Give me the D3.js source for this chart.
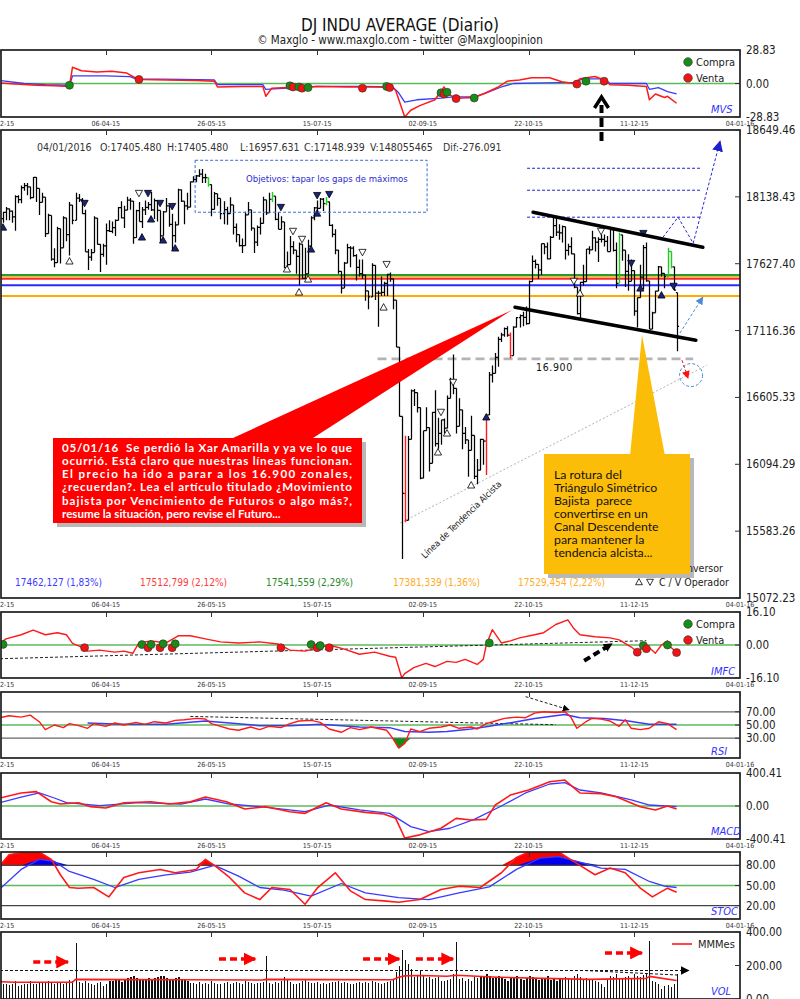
<!DOCTYPE html>
<html lang="es">
<head>
<meta charset="utf-8">
<title>DJ INDU AVERAGE (Diario)</title>
<script src="https://cdn.jsdelivr.net/npm/d3@7/dist/d3.min.js"></script>
<style>
  html, body { margin: 0; padding: 0; background: #fff; }
  svg { display: block; }
</style>
</head>
<body>
<svg id="chart" width="800" height="999"></svg>
<script>
// ---------------- Date axis ----------------
const dateTickIdx = [0, 35, 70, 105, 140, 175, 210, 245];
const dateTickLabels = ["12-02-15", "06-04-15", "26-05-15", "15-07-15", "02-09-15", "22-10-15", "11-12-15", "04-01-16"];
const lastDate = "04/01/2016";

// ---------------- Daily bars, 12-02-2015 .. 04-01-2016 ----------------
const opens = [17868,17972,18019,18047,18029,17986,18140,18117,18209,18224,
18214,18133,18288,18203,18097,18136,17857,17996,17662,17635,
17895,17749,17977,17849,18076,17959,18128,18116,18011,17718,
17678,17713,17976,17776,17698,17763,17881,17875,17903,17958,
18057,17977,18037,18113,18106,17826,18034,17950,18038,18058,
18080,18038,18110,18035,17841,18024,18070,17928,17842,17925,
18191,18105,18069,18060,18252,18272,18299,18312,18285,18285,
18232,18042,18163,18126,18011,18041,18011,18077,17906,17849,
17766,17765,18001,18039,17899,17792,17905,17935,18116,18016,
18120,18144,17966,17890,17947,17597,17620,17758,17731,17684,
17777,17516,17549,17761,17978,18054,18051,18121,18087,18101,
17920,17851,17732,17569,17441,17631,17751,17746,17690,17599,
17551,17540,17419,17373,17615,17403,17402,17409,17477,17546,
17512,17349,16990,16460,15871,15666,16285,16655,16643,16528,
15988,16351,16375,16102,16492,16253,16330,16433,16370,16599,
16740,16675,16385,16511,16331,16280,16201,16315,16001,16049,
16285,16272,16472,16777,16790,16912,17050,17084,17131,17081,
16925,17142,17216,17230,17218,17169,17490,17646,17623,17581,
17780,17756,17664,17828,17918,17868,17863,17910,17730,17758,
17703,17448,17245,17484,17490,17738,17733,17824,17792,17813,
17813,17798,17720,17888,17730,17478,17848,17731,17568,17493,
17575,17265,17368,17525,17750,17496,17128,17252,17418,17603,
17553,17528,17721,17604,17405.48];

const highs = [17980,18025,18060,18050,18035,18150,18150,18225,18245,18245,
18215,18290,18288,18203,18170,18136,18010,17996,17745,17910,
17895,17990,17977,18100,18076,18170,18160,18130,18040,17740,
17740,17990,17976,17776,17780,17935,17960,17950,17965,18060,
18105,18070,18140,18130,18106,18040,18100,18060,18110,18100,
18175,18125,18110,18035,18030,18130,18070,18010,17950,18200,
18195,18105,18170,18255,18295,18305,18350,18351,18315,18286,
18232,18175,18163,18126,18105,18062,18135,18077,17935,17850,
17820,18025,18100,18039,17899,17920,17980,18140,18116,18170,
18175,18144,18020,17990,17947,17720,17840,17800,17731,17790,
17777,17750,17810,17990,18060,18110,18130,18130,18137,18101,
17930,17890,17732,17569,17640,17780,17760,17760,17700,17660,
17660,17545,17419,17630,17615,17420,17530,17490,17550,17560,
17512,17349,16990,16460,16312,16310,16666,16670,16643,16528,
16351,16530,16375,16493,16660,16450,16434,16445,16620,16755,
16933,16675,16600,16511,16380,16280,16465,16315,16134,16290,
16285,16472,16800,16850,16945,17070,17100,17140,17150,17102,
17150,17220,17240,17260,17300,17500,17690,17660,17623,17780,
17780,17790,17840,17978,17978,17930,17920,17910,17780,17830,
17703,17448,17490,17620,17740,17760,17880,17830,17830,17850,
17850,17840,17900,17900,17790,17866,17848,17731,17700,17660,
17575,17370,17620,17770,17790,17496,17260,17420,17610,17605,
17553,17750,17721,17604,17405.48];

const lows = [17868,17940,17960,17960,17940,17880,18090,18090,18185,18150,
18120,18130,18100,18000,18097,17832,17857,17650,17600,17635,
17630,17749,17800,17690,17930,17959,18100,18010,17718,17580,
17650,17713,17775,17565,17680,17620,17870,17860,17840,17958,
17975,17900,18037,18040,17780,17826,17950,17900,18000,18040,
18030,17970,17950,17800,17841,18024,17910,17730,17790,17925,
18100,17930,18040,18060,18250,18250,18290,18245,18245,18216,
17990,18042,18070,17967,17930,17925,18011,17850,17791,17760,
17710,17765,18001,17880,17710,17762,17850,17935,18000,18016,
18100,17960,17890,17890,17592,17575,17620,17700,17550,17465,
17510,17516,17549,17761,17960,18020,18051,18030,18074,17915,
17830,17700,17550,17400,17441,17631,17600,17680,17500,17530,
17510,17345,17280,17373,17350,17145,17380,17380,17380,17490,
17280,16990,16459,15370,15651,15666,16285,16540,16490,15980,
15988,16350,16040,16102,16230,16213,16244,16330,16370,16599,
16630,16330,16385,16210,16250,16000,16201,15981,15942,16049,
16090,16013,16472,16720,16790,16840,17030,17070,17070,16904,
16925,17140,17140,17150,17160,17169,17490,17590,17510,17540,
17700,17660,17664,17828,17840,17810,17790,17660,17690,17700,
17440,17240,17210,17460,17490,17700,17733,17720,17640,17790,
17760,17720,17720,17720,17440,17478,17650,17450,17420,17493,
17230,17140,17368,17430,17490,17128,17128,17252,17418,17530,
17440,17528,17590,17421,16957.631];

const closes = [17972,18019,18047,18029,17986,18140,18117,18209,18224,18214,
18133,18288,18203,18097,18136,17857,17996,17662,17635,17895,
17749,17977,17849,18076,17959,18128,18116,18011,17718,17678,
17713,17976,17776,17698,17763,17881,17875,17903,17958,18057,
17977,18037,18113,18106,17826,18034,17950,18038,18058,18080,
18038,18110,18035,17841,18024,18070,17928,17842,17925,18191,
18105,18069,18060,18252,18272,18299,18312,18285,18285,18232,
18042,18163,18126,18011,18041,18011,18077,17906,17849,17766,
17765,18001,18039,17899,17792,17905,17935,18116,18016,18120,
18144,17966,17890,17947,17597,17620,17758,17731,17684,17777,
17516,17549,17761,17978,18054,18051,18121,18087,18101,17920,
17851,17732,17569,17441,17631,17751,17746,17690,17599,17551,
17540,17419,17373,17615,17403,17402,17409,17477,17546,17512,
17349,16990,16460,15871,15666,16285,16655,16643,16528,15988,
16351,16375,16102,16492,16253,16330,16433,16370,16599,16740,
16675,16385,16511,16331,16280,16201,16315,16001,16049,16285,
16272,16472,16777,16790,16912,17050,17084,17131,17081,16925,
17142,17216,17230,17218,17169,17490,17646,17623,17581,17780,
17756,17664,17828,17918,17868,17863,17910,17730,17758,17703,
17448,17245,17484,17490,17738,17733,17824,17792,17813,17813,
17798,17720,17888,17730,17478,17848,17731,17568,17493,17575,
17265,17368,17525,17750,17496,17128,17252,17418,17603,17553,
17528,17721,17604,17425.03,17148.939];

// volume, millions of shares
const volumes = [95,88,92,85,90,110,80,85,90,92,105,90,88,95,100,96,110,98,92,100,95,90,102,112,108,
334,
100,95,110,98,90,85,95,100,80,88,
105,110,112,120,100,118,125,130,140,125,115,120,118,128,122,125,130,135,140,128,120,115,125,130,118,112,108,
95,98,90,100,92,95,88,105,98,92,90,95,100,92,98,102,95,90,105,100,96,92,98,95,100,
257,
95,90,100,98,105,130,115,100,92,88,95,110,120,100,98,95,100,
92,95,90,98,100,102,105,98,100,95,90,92,98,100,95,102,98,110,100,95,92,98,100,
105,115,160,200,
293,230,210,180,130,140,170,145,125,130,120,125,130,110,105,115,120,150,340,120,125,110,120,110,130,125,140,
130,150,135,125,130,140,125,120,110,125,130,140,120,115,125,
140,130,120,115,125,120,140,115,120,110,118,120,130,125,120,140,150,130,120,125,115,120,110,100,90,70,120,140,130,150,125,120,130,140,120,
150,140,130,145,155,345,110,100,90,60,80,85,70,90,148.055465];
const volHeavyRanges = [[36, 62], [159, 185]];

// highlighted bars
const greenBars = [69, 90, 108, 205, 221, 222];
const redBars = [134, 161, 169];

// signal triangles: [bar index, price]
const invBuy = [[1,17906],[47,17830],[50,17968],[54,17807],[58,17746],[103,17738],[105,18013],[161,16455],[212,17440],[219,17387]];
const invSell = [[28,18090],[49,18166],[53,18090],[57,18066],[93,18059],[105,18150],[109,18158],[209,17631],[213,17860],[223,17456]];
const opBuy = [[23,17647],[95,17586],[99,17410],[102,17509],[127,17295],[145,16187],[148,16332],[156,15935],[192,17402]];
const opSell = [[46,18166],[97,17876],[100,17815],[120,17715],[128,17623],[146,16493],[150,16722],[190,17494],[199,17876]];

// support / resistance levels (label order)
const levelValues = [17462.127, 17512.799, 17541.559, 17381.339, 17529.454];
const levelColors = ["#2a2aff", "#ff2a2a", "#2a9a2a", "#ffaa00", "#f7b733"];
const levelTextColors = ["#3b3bff", "#ff3b3b", "#2a8a2a", "#ffaa22", "#ffae2a"];
const keyLevel = 16900;

// price axis ticks
const mainTicks = [18649.46, 18138.43, 17627.40, 17116.36, 16605.33, 16094.29, 15583.26, 15072.23];

// drawn annotations in [bar index, price]
const targetLevels = [18357, 18189, 17983];
const channelUpper = [[176.5, 18021], [232.7, 17753]];
const channelLower = [[170.5, 17295], [230.4, 17043]];
const projection = [[219.5, 17830], [224.5, 17983], [229.5, 17784], [238.4, 18563]];
const bounceArrow = [[225.1, 17097], [232.7, 17372]];
const dropArrow = [[225.8, 16890], [227.8, 16752]];
const targetCircle = [228.8, 16776];
const trendLine = [[132.5, 15645], [234, 16852]];
const objectiveBox = [[64.6, 18418], [141.4, 18021]];

// ---------------- MVS ----------------
const mvsTicks = [28.83, 0, -28.83];
const mvsRed = [[0,0.5],[5,-0.5],[12,-1.5],[18,-2],[23,-2.5],[24,14],[27,11],[32,10],[37,10.5],[42,9],[45,4.5],[47,3.5],[55,3],[65,2.5],[71,2],[72,-3],[80,-2.5],[87,-2.5],[88,-11],[90,-4],[95,-3.5],[105,-2.5],[115,-3],[125,-3],[130,-3.5],[131,-6],[134,-28.8],[136,-23],[139,-19],[144,-14],[147,-3],[149,-10],[151,-12.6],[157,-12],[160,-9],[165,-3],[168,2],[172,3],[176,5],[182,5],[186,1.5],[190,0],[192,4],[197,6],[200,3],[202,-1],[208,-1.5],[214,-2.5],[215,-14],[217,-9],[220,-12],[221,-11],[224,-17]];
const mvsBlue = [[0,2.5],[8,0],[15,-1],[23,-1.5],[24,6.5],[35,6.5],[43,6],[45,4],[60,3.5],[71,3],[72,-1],[87,-1],[88,-5],[95,-4],[105,-2.5],[120,-2.5],[130,-3],[132,-8],[134,-16],[138,-14],[146,-12.5],[150,-11.5],[157,-11.5],[161,-8],[166,-3],[170,0],[180,0.5],[190,1],[193,4],[200,4],[202,0],[214,0],[215,-5],[218,-3.5],[221,-7],[224,-9]];
const mvsSignals = [[23,-1.5,"c"],[46,3.5,"v"],[96,-2,"c"],[97,-3,"v"],[99,-3,"c"],[100,-4,"v"],[102,-3.5,"c"],[120,-4,"v"],[128,-2.5,"c"],[129,-3.5,"v"],[146,-8,"c"],[147,-9,"v"],[148,-7.5,"c"],[151,-13,"v"],[157,-12.5,"c"],[191,-0.5,"v"],[194,2,"c"],[200,2,"v"]];

// ---------------- IMFC ----------------
const imfcTicks = [16.10, 0, -16.10];
const imfc = [[0,0.8],[2,3],[7,5],[11,7.3],[15,5],[19,6],[22,5],[24,0.8],[27,-1],[29,-3],[33,-2.5],[38,-3.5],[41,-3],[44,-4],[46,1],[50,2],[55,1],[59,4.5],[63,4.5],[68,3],[73,1.5],[79,1],[86,1.5],[92,0.5],[96,-2.5],[101,-3],[105,-1.5],[109,0],[114,-2],[119,-4.5],[124,-3.5],[129,-5.5],[131,-6],[133,-16],[134,-14],[137,-11],[141,-9],[144,-10.5],[148,-8],[151,-8.5],[154,-7],[158,-9.5],[160,-7],[161,0],[163,7.5],[166,1],[169,2],[172,3.5],[177,5],[180,6],[184,10],[188,12.3],[190,8],[192,5],[197,4],[202,3.5],[205,2.5],[209,-1],[211,-3.3],[214,0],[217,-4],[219,0],[221,2],[222,-1],[224,-3.5]];
const imfcSignals = [[1,0.3,"c"],[28,-1.3,"v"],[47,0.2,"c"],[49,-1.3,"v"],[50,0.2,"c"],[53,-1.3,"v"],[54,0.6,"c"],[57,-1.3,"v"],[58,0.6,"c"],[93,-1.3,"v"],[103,0.2,"c"],[105,-1.3,"v"],[106,-0.3,"c"],[109,-1.3,"v"],[162,1,"c"],[211,-3.5,"v"],[213,-0.3,"c"],[214,-1.8,"v"],[221,0,"c"],[224,-3.7,"v"]];
const imfcTrend = [[0,-6.7],[214,2.1]];
const imfcArrow = [[193.4,-7.7],[202.6,0.6]];

// ---------------- RSI ----------------
const rsiTicks = [70, 50, 30];
const rsiRed = [[0,61],[3,64],[7,62],[10,65],[13,55],[15,43],[18,50],[21,46],[23,52],[26,49],[29,45],[31,52],[35,48],[38,53],[41,50],[45,54],[48,51],[51,55],[55,53],[58,57],[61,58],[65,60],[68,59],[70,52],[73,48],[76,44],[79,42],[83,47],[86,43],[89,48],[93,46],[96,52],[99,56],[103,57],[106,54],[109,44],[113,39],[116,46],[119,43],[123,47],[126,44],[128,42],[130,30],[132,15],[134,22],[136,44],[139,40],[142,45],[146,47],[149,50],[152,45],[156,47],[158,44],[161,52],[164,56],[167,60],[171,62],[174,61],[177,68],[180,70],[184,69],[187,70],[189,62],[191,45],[194,55],[196,60],[199,59],[202,56],[205,48],[207,58],[209,45],[212,43],[215,45],[218,55],[221,52],[224,43]];
const rsiBlue = [[29,53],[40,51],[55,51],[68,56],[76,53],[86,49],[96,49],[106,51],[119,47],[129,46],[134,40],[142,39],[148,40],[156,44],[162,48],[171,55],[177,60],[187,66],[192,61],[200,60],[208,56],[215,51],[224,51]];
const rsiTrend = [[63,63],[184,50.4]];
const rsiArrow = [[174,93],[188.4,73]];

// ---------------- MACD ----------------
const macdTicks = [400.41, 0, -400.41];
const macdRed = [[0,97],[7,158],[12,174],[17,52],[20,24],[26,40],[30,-8],[35,-24],[41,40],[50,52],[56,24],[63,50],[68,109],[75,52],[81,-36],[88,-8],[96,-69],[101,-89],[108,40],[113,-36],[121,-77],[127,-97],[131,-150],[134,-388],[139,-350],[146,-270],[151,-150],[156,-170],[161,-162],[164,12],[169,133],[175,194],[182,295],[187,315],[192,158],[199,150],[204,113],[212,-8],[217,-48],[221,0],[224,-36]];
const macdBlue = [[0,40],[7,109],[13,158],[18,97],[22,40],[33,4],[46,40],[60,24],[68,85],[76,24],[86,-8],[101,-69],[109,12],[119,-48],[129,-89],[136,-250],[142,-312],[149,-270],[157,-162],[166,0],[174,158],[182,267],[187,283],[192,194],[199,158],[209,73],[215,12],[224,-8]];

// ---------------- STOC ----------------
const stocTicks = [80, 50, 20];
const stocRed = [[0,80],[3,96],[8,100],[13,100],[17,89],[20,66],[23,47],[26,46],[31,47],[36,33],[41,62],[46,69],[53,74],[58,69],[65,74],[68,89],[71,80],[76,62],[81,39],[86,29],[90,47],[96,44],[101,22],[105,46],[111,69],[116,42],[121,29],[127,27],[132,25],[139,29],[146,44],[152,49],[159,47],[166,69],[171,92],[175,100],[185,100],[192,80],[197,66],[202,76],[207,69],[212,46],[216,33],[221,46],[224,40]];
const stocBlue = [[0,45],[7,74],[13,89],[18,86],[23,71],[31,59],[38,47],[46,59],[55,66],[63,70],[71,80],[79,64],[86,47],[94,43],[103,34],[113,53],[121,39],[132,32],[142,29],[152,39],[162,48],[171,74],[179,91],[185,93],[192,85],[199,76],[207,74],[215,56],[220,49],[224,47]];

// ---------------- VOL ----------------
const volTicks = [400, 200, 0];
const mmMes = [[0,103],[5,100],[24,100],[25,117],[60,115],[87,113],[88,117],[130,115],[132,130],[134,138],[139,140],[148,136],[151,142],[165,130],[180,123],[195,117],[214,123],[215,135],[224,110]];
const volTrend = [[0,170],[228,170]];
const volTrend2 = [[193.7,170],[224.5,143]];
const volArrows = [[11,22.5,221],[72.5,84.5,239],[120.2,132.2,239],[137.7,150,239],[200.3,212.5,275]];

// ---------------- Notes ----------------
const redNote = [
  "05/01/16  Se perdió la Xar Amarilla y ya ve lo que",
  "ocurrió. Está claro que nuestras líneas funcionan.",
  "El precio ha ido a parar a los 16.900 zonales,",
  "¿recuerdan?. Lea el artículo titulado ¿Movimiento",
  "bajista por Vencimiento de Futuros o algo más?,",
  "resume la situación, pero revise el Futuro..."
];
const yellowNote = ["La rotura del", "Triángulo Simétrico", "Bajista  parece", "convertirse en un", "Canal Descendente", "para mantener la", "tendencia alcista..."];

// =====================================================================
const FONT = "'DejaVu Sans Condensed','DejaVu Sans',sans-serif";
const svg = d3.select("#chart");
const defs = svg.append("defs");
const contentLayer = svg.append("g");
const frameLayer = svg.append("g");
const overlayLayer = svg.append("g");

const PL = 1, PR = 740;
const x = d3.scaleLinear().domain([0, 245]).range([0, 740]);
const px = i => Math.round(x(i)) + 0.5;

const layout = {
  mvs: [50, 117], main: [130, 598], imfc: [612, 678], rsi: [692, 758],
  macd: [773, 839], stoc: [852, 919], vol: [932, 999]
};

function arrowMarker(id, color, size) {
  defs.append("marker").attr("id", id).attr("viewBox", "0 0 10 10")
    .attr("refX", 9).attr("refY", 5).attr("markerWidth", size).attr("markerHeight", size)
    .attr("markerUnits", "userSpaceOnUse").attr("orient", "auto")
    .append("path").attr("d", "M0,0L10,5L0,10Z").attr("fill", color);
}
arrowMarker("ah-blue", "#2020cc", 11);
arrowMarker("ah-lblue", "#4a8ad8", 8);
arrowMarker("ah-red", "#ff1010", 8);
arrowMarker("ah-black", "#000", 9);
arrowMarker("ah-black-s", "#000", 7);
arrowMarker("ah-redbig", "#ff0000", 13);

function makePanel(name, domain, ticks, fmt) {
  const [top, bottom] = layout[name];
  const y = d3.scaleLinear().domain(domain).range([bottom, top]);
  defs.append("clipPath").attr("id", "c-" + name).append("rect")
    .attr("x", PL).attr("y", top).attr("width", PR - PL).attr("height", bottom - top);
  const body = contentLayer.append("g").attr("clip-path", `url(#c-${name})`);
  frameLayer.append("rect").attr("x", PL).attr("y", top).attr("width", PR - PL).attr("height", bottom - top)
    .attr("fill", "none").attr("stroke", "#1e1e1e").attr("stroke-width", 1.7);
  frameLayer.selectAll(null).data(dateTickIdx).enter().append("line")
    .attr("x1", d => px(d)).attr("x2", d => px(d)).attr("y1", top).attr("y2", top + 5)
    .attr("stroke", "#333").attr("stroke-width", 1);
  frameLayer.selectAll(null).data(dateTickIdx).enter().append("text")
    .attr("x", d => x(d)).attr("y", bottom + 9).attr("text-anchor", "middle")
    .attr("font-size", 7).attr("font-family", FONT).attr("fill", "#333")
    .text((d, i) => dateTickLabels[i]);
  frameLayer.selectAll(null).data(ticks).enter().append("line")
    .attr("x1", PR - 5).attr("x2", PR).attr("y1", d => y(d)).attr("y2", d => y(d))
    .attr("stroke", "#333");
  frameLayer.selectAll(null).data(ticks).enter().append("text")
    .attr("x", 746).attr("y", d => y(d) + 4).attr("font-size", 11.5).attr("font-family", FONT)
    .attr("fill", "#222").text(d => (fmt || (v => v.toFixed(2)))(d));
  return { y, body, top, bottom };
}

function plotLine(g, data, y, color, width, dash) {
  const p = g.append("path").attr("d", d3.line().x(d => x(d[0])).y(d => y(d[1]))(data))
    .attr("fill", "none").attr("stroke", color).attr("stroke-width", width)
    .attr("stroke-linejoin", "round");
  if (dash) p.attr("stroke-dasharray", dash);
  return p;
}
function hLine(g, y, v, color, width) {
  g.append("line").attr("x1", PL).attr("x2", PR).attr("y1", y(v)).attr("y2", y(v))
    .attr("stroke", color).attr("stroke-width", width || 1);
}
function panelName(text, yb) {
  frameLayer.append("text").attr("x", 711).attr("y", yb).attr("font-size", 11)
    .attr("font-style", "italic").attr("font-family", FONT).attr("fill", "#3030ff").text(text);
}
function signalDots(g, sig, y) {
  g.selectAll(null).data(sig).enter().append("circle")
    .attr("cx", d => x(d[0])).attr("cy", d => y(d[1])).attr("r", 4)
    .attr("fill", d => d[2] === "c" ? "#178c17" : "#f01414").attr("stroke", "#333").attr("stroke-width", 0.6);
}
function signalLegend(top) {
  const items = [["Compra", "#178c17"], ["Venta", "#f01414"]];
  items.forEach((it, k) => {
    frameLayer.append("circle").attr("cx", 688).attr("cy", top + 12 + k * 16).attr("r", 4.3)
      .attr("fill", it[1]).attr("stroke", "#333").attr("stroke-width", 0.6);
    frameLayer.append("text").attr("x", 696).attr("y", top + 16 + k * 16).attr("font-size", 11)
      .attr("font-family", FONT).attr("fill", "#222").text(it[0]);
  });
}

// ---------------- Title ----------------
frameLayer.append("text").attr("x", 400).attr("y", 31).attr("text-anchor", "middle")
  .attr("font-size", 17).attr("font-family", FONT).attr("fill", "#111").text("DJ INDU AVERAGE (Diario)");
frameLayer.append("text").attr("x", 400).attr("y", 44).attr("text-anchor", "middle")
  .attr("font-size", 11.5).attr("font-family", FONT).attr("fill", "#222")
  .text("© Maxglo - www.maxglo.com - twitter @Maxgloopinion");

// ---------------- MVS panel ----------------
const mvs = makePanel("mvs", [-28.83, 28.83], mvsTicks);
hLine(mvs.body, mvs.y, 0, "#5cb85c", 1.3);
plotLine(mvs.body, mvsBlue, mvs.y, "#3a3aff", 1.3);
plotLine(mvs.body, mvsRed, mvs.y, "#ff1a1a", 1.5);
signalDots(mvs.body, mvsSignals, mvs.y);
signalLegend(mvs.top);
panelName("MVS", 113);

// ---------------- Main price panel ----------------
const main = makePanel("main", [15072.23, 18649.46], mainTicks);
const ym = main.y;
const mb = main.body;

// support levels
const levelOrder = [4, 2, 1, 0, 3];
levelOrder.forEach(k => hLine(mb, ym, levelValues[k], levelColors[k], 2));

// key level 16.900
mb.append("line").attr("x1", x(125)).attr("x2", x(229.5)).attr("y1", ym(keyLevel)).attr("y2", ym(keyLevel))
  .attr("stroke", "#b4b4b4").attr("stroke-width", 2.6).attr("stroke-dasharray", "9,5");
mb.append("text").attr("x", x(177.5)).attr("y", ym(keyLevel) + 12).attr("font-size", 10.5)
  .attr("font-family", FONT).attr("fill", "#111").attr("letter-spacing", 0.6)
  .text(d3.format(",")(keyLevel).replace(",", "."));

// rising trend line
plotLine(mb, trendLine, ym, "#aaaaaa", 0.9, "2,2");

// bars
function barD(i) {
  const cx = px(i);
  return `M${cx - 1.6},${ym(opens[i])}H${cx}M${cx},${ym(highs[i])}V${ym(lows[i]) + 0.01}M${cx},${ym(closes[i])}H${cx + 1.6}`;
}
const allIdx = d3.range(closes.length);
const plainIdx = allIdx.filter(i => !greenBars.includes(i) && !redBars.includes(i));
mb.append("path").attr("d", plainIdx.map(barD).join("")).attr("fill", "none").attr("stroke", "#000").attr("stroke-width", 1.25);
mb.append("path").attr("d", greenBars.map(barD).join("")).attr("fill", "none").attr("stroke", "#22cc22").attr("stroke-width", 1.4);
mb.append("path").attr("d", redBars.map(barD).join("")).attr("fill", "none").attr("stroke", "#ff1a1a").attr("stroke-width", 1.4);

// signal triangles
function triD(cx, cy, up, s) {
  return up ? `M${cx},${cy - s}L${cx + s},${cy + s * 0.8}L${cx - s},${cy + s * 0.8}Z`
            : `M${cx},${cy + s}L${cx + s},${cy - s * 0.8}L${cx - s},${cy - s * 0.8}Z`;
}
function triangles(list, up, filled) {
  mb.selectAll(null).data(list).enter().append("path")
    .attr("d", d => triD(x(d[0]), ym(d[1]), up, 3.6))
    .attr("fill", filled ? "#1a237e" : "#fff").attr("stroke", "#000").attr("stroke-width", 0.8);
}
triangles(opBuy, true, false);
triangles(opSell, false, false);
triangles(invBuy, true, true);
triangles(invSell, false, true);

// objective box and targets
mb.append("rect").attr("x", x(objectiveBox[0][0])).attr("y", ym(objectiveBox[0][1]))
  .attr("width", x(objectiveBox[1][0]) - x(objectiveBox[0][0]))
  .attr("height", ym(objectiveBox[1][1]) - ym(objectiveBox[0][1]))
  .attr("fill", "none").attr("stroke", "#3a6fd0").attr("stroke-width", 1).attr("stroke-dasharray", "3,2");
mb.append("text").attr("x", 246).attr("y", 182).attr("font-size", 9.5).attr("font-family", FONT)
  .attr("fill", "#2a2ad0").text("Objetivos: tapar los gaps de máximos");
targetLevels.forEach(v => {
  mb.append("line").attr("x1", x(174.5)).attr("x2", x(232.4)).attr("y1", ym(v)).attr("y2", ym(v))
    .attr("stroke", "#2222cc").attr("stroke-width", 1).attr("stroke-dasharray", "3,2");
});
plotLine(mb, projection, ym, "#2a2ad0", 1, "3,2").attr("marker-end", "url(#ah-blue)");

// descending channel
plotLine(mb, channelUpper, ym, "#000", 3.5).attr("stroke-linecap", "round");
plotLine(mb, channelLower, ym, "#000", 3.5).attr("stroke-linecap", "round");

// scenario arrows
plotLine(mb, bounceArrow, ym, "#4a8ad8", 1, "3,2").attr("marker-end", "url(#ah-lblue)");
plotLine(mb, dropArrow, ym, "#ff1010", 1, "3,2").attr("marker-end", "url(#ah-red)");
mb.append("circle").attr("cx", x(targetCircle[0])).attr("cy", ym(targetCircle[1])).attr("r", 11.5)
  .attr("fill", "none").attr("stroke", "#4a8ad8").attr("stroke-width", 1).attr("stroke-dasharray", "3,2");

// header with last bar
const li = closes.length - 1;
const headerParts = [
  [lastDate, 37],
  ["O:" + opens[li].toFixed(3), 100],
  ["H:" + highs[li].toFixed(3), 167],
  ["L:" + lows[li].toFixed(3), 240],
  ["C:" + closes[li].toFixed(3), 304],
  ["V:" + Math.round(volumes[li] * 1e6), 370],
  ["Dif:" + (closes[li] - closes[li - 1]).toFixed(3), 443]
];
headerParts.forEach(p => {
  mb.append("text").attr("x", p[1]).attr("y", 151).attr("font-size", 10.5).attr("font-family", FONT)
    .attr("fill", "#333").text(p[0]);
});

// level labels
const levelLabelX = [15, 140, 266, 393, 518];
const fmtComma = (v, d) => v.toFixed(d).replace(".", ",");
levelValues.forEach((v, k) => {
  const pct = (v / closes[li] - 1) * 100;
  mb.append("text").attr("x", levelLabelX[k]).attr("y", 586).attr("font-size", 10)
    .attr("font-family", FONT).attr("fill", levelTextColors[k])
    .text(`${fmtComma(v, 3)} (${fmtComma(pct, 2)}%)`);
});

// triangle legend
function legendRow(yb, filled, label) {
  mb.append("path").attr("d", triD(639, yb - 4, true, 3.4)).attr("fill", filled ? "#1a237e" : "#fff").attr("stroke", "#000").attr("stroke-width", 0.8);
  mb.append("path").attr("d", triD(650, yb - 4, false, 3.4)).attr("fill", filled ? "#1a237e" : "#fff").attr("stroke", "#000").attr("stroke-width", 0.8);
  mb.append("text").attr("x", 659).attr("y", yb).attr("font-size", 10.5).attr("font-family", FONT)
    .attr("fill", "#222").text(label);
}
legendRow(572, true, "C / V Inversor");
legendRow(586, false, "C / V Operador");

// trend line caption
mb.append("text").attr("transform", "translate(425,559) rotate(-44)").attr("font-size", 9)
  .attr("font-family", FONT).attr("fill", "#222").text("Línea de Tendencia Alcista");

// red note
mb.append("rect").attr("x", 57).attr("y", 442).attr("width", 309).attr("height", 85).attr("fill", "#000").attr("opacity", 0.28);
mb.append("path").attr("d", "M233,438L313,438L512,310Z").attr("fill", "#ff0000");
mb.append("rect").attr("x", 53).attr("y", 438).attr("width", 309).attr("height", 85).attr("fill", "#ff0000");
redNote.forEach((t, k) => {
  const tx = mb.append("text").attr("x", 62).attr("y", 451.5 + k * 13.3).attr("font-size", 11.6)
    .attr("font-weight", "bold").attr("font-family", "Lato, 'DejaVu Sans Condensed', sans-serif")
    .attr("fill", "#fff").style("white-space", "pre").text(t);
  if (k < redNote.length - 1) tx.attr("textLength", 290).attr("lengthAdjust", "spacing");
});

// yellow note
mb.append("rect").attr("x", 548).attr("y", 458).attr("width", 146).attr("height", 120).attr("fill", "#000").attr("opacity", 0.28);
mb.append("path").attr("d", "M630,456L665,456L642,335Z").attr("fill", "#fbbd08");
mb.append("rect").attr("x", 544).attr("y", 454).attr("width", 146).attr("height", 120).attr("fill", "#fbbd08");
yellowNote.forEach((t, k) => {
  mb.append("text").attr("x", 554).attr("y", 478.5 + k * 13.15).attr("font-size", 12.3)
    .attr("font-family", "Lato, 'DejaVu Sans Condensed', sans-serif")
    .attr("fill", "#111").style("white-space", "pre").text(t);
});

// ---------------- IMFC panel ----------------
const imf = makePanel("imfc", [-16.10, 16.10], imfcTicks);
hLine(imf.body, imf.y, 0, "#5cb85c", 1.5);
plotLine(imf.body, imfcTrend, imf.y, "#222", 1, "3,2");
plotLine(imf.body, imfc, imf.y, "#ff1a1a", 1.4);
signalDots(imf.body, imfcSignals, imf.y);
plotLine(imf.body, imfcArrow, imf.y, "#000", 4, "7,4").attr("marker-end", "url(#ah-black)");
signalLegend(imf.top);
panelName("IMFC", 675);

// ---------------- RSI panel ----------------
const rsi = makePanel("rsi", [0, 100], rsiTicks, v => v.toFixed(2));
hLine(rsi.body, rsi.y, 70, "#666", 1.2);
hLine(rsi.body, rsi.y, 30, "#666", 1.2);
hLine(rsi.body, rsi.y, 50, "#5cb85c", 1.5);
rsi.body.append("path").attr("d", d3.area().x(d => x(d[0])).y0(rsi.y(30)).y1(d => rsi.y(Math.min(d[1], 30)))(rsiRed))
  .attr("fill", "#188a18");
plotLine(rsi.body, rsiTrend, rsi.y, "#222", 1, "3,2");
plotLine(rsi.body, rsiArrow, rsi.y, "#222", 1, "3,2").attr("marker-end", "url(#ah-black-s)");
plotLine(rsi.body, rsiBlue, rsi.y, "#3a3aff", 1.5);
plotLine(rsi.body, rsiRed, rsi.y, "#ff1a1a", 1.4);
panelName("RSI", 755);

// ---------------- MACD panel ----------------
const macd = makePanel("macd", [-400.41, 400.41], macdTicks);
hLine(macd.body, macd.y, 0, "#5cb85c", 1.5);
plotLine(macd.body, macdBlue, macd.y, "#3a3aff", 1.3);
plotLine(macd.body, macdRed, macd.y, "#ff1a1a", 1.6);
panelName("MACD", 835);

// ---------------- STOC panel ----------------
const stoc = makePanel("stoc", [0, 100], stocTicks);
const stocArea = d3.area().x(d => x(d[0])).y1(d => stoc.y(Math.max(d[1], 80)));
stoc.body.append("path").attr("d", stocArea.y0(stoc.y(80))(stocRed)).attr("fill", "#ff0000");
stoc.body.append("path").attr("d", stocArea.y0(stoc.y(80))(stocBlue)).attr("fill", "#0000ee");
hLine(stoc.body, stoc.y, 80, "#444", 1.2);
hLine(stoc.body, stoc.y, 20, "#444", 1.2);
hLine(stoc.body, stoc.y, 50, "#5cb85c", 1.5);
plotLine(stoc.body, stocBlue, stoc.y, "#3a3aff", 1.3);
plotLine(stoc.body, stocRed, stoc.y, "#ff1a1a", 1.6);
panelName("STOC", 915);

// ---------------- VOL panel ----------------
const vol = makePanel("vol", [0, 400], volTicks);
const isHeavy = i => volHeavyRanges.some(r => i >= r[0] && i <= r[1]);
vol.body.selectAll(null).data(allIdx).enter().append("line")
  .attr("x1", i => isHeavy(i) ? Math.round(x(i)) + 1 : px(i))
  .attr("x2", i => isHeavy(i) ? Math.round(x(i)) + 1 : px(i))
  .attr("y1", vol.y(0)).attr("y2", i => vol.y(volumes[i]))
  .attr("stroke", "#111").attr("stroke-width", i => isHeavy(i) ? 2 : 1)
  .attr("shape-rendering", "crispEdges");
plotLine(vol.body, mmMes, vol.y, "#ff1a1a", 1.6);
plotLine(vol.body, volTrend, vol.y, "#111", 1, "3,2").attr("marker-end", "url(#ah-black)");
plotLine(vol.body, volTrend2, vol.y, "#111", 1, "3,2");
volArrows.forEach(a => {
  plotLine(vol.body, [[a[0], a[2]], [a[1], a[2]]], vol.y, "#ff0000", 3.5, "7,4").attr("marker-end", "url(#ah-redbig)");
});
frameLayer.append("line").attr("x1", 672).attr("x2", 692).attr("y1", 944).attr("y2", 944)
  .attr("stroke", "#ff1a1a").attr("stroke-width", 1.6);
frameLayer.append("text").attr("x", 698).attr("y", 948).attr("font-size", 11).attr("font-family", FONT)
  .attr("fill", "#222").text("MMMes");
panelName("VOL", 995);

// ---------------- Signal arrow linking MVS and price ----------------
const bx = px(199);
overlayLayer.append("line").attr("x1", bx).attr("x2", bx).attr("y1", 141).attr("y2", 105)
  .attr("stroke", "#000").attr("stroke-width", 4).attr("stroke-dasharray", "9,5");
overlayLayer.append("path").attr("d", `M${bx - 7},${108}L${bx},${97}L${bx + 7},${108}`)
  .attr("fill", "none").attr("stroke", "#000").attr("stroke-width", 3.5);
</script>
</body>
</html>
